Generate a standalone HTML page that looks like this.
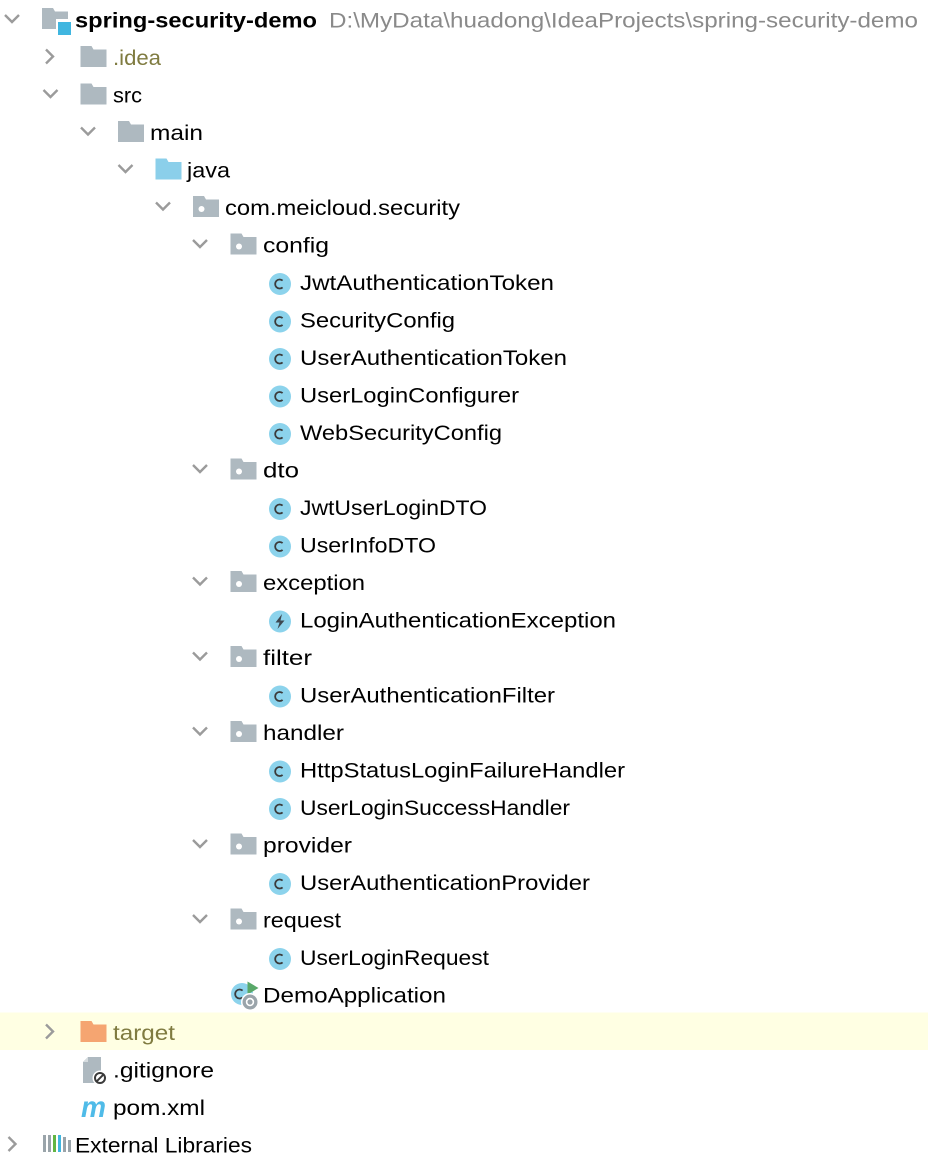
<!DOCTYPE html>
<html><head><meta charset="utf-8"><style>
html,body{margin:0;padding:0;background:#fff;}
svg{display:block;}
text{font-family:"Liberation Sans",sans-serif;font-size:21px;fill:#000;}
</style></head><body>
<svg width="928" height="1160" viewBox="0 0 928 1160" xmlns="http://www.w3.org/2000/svg">
<defs>
  <path id="fold" d="M0 0 H11 L13 3.5 H26 V21 H0 Z"/>
  <g id="pkg"><use href="#fold" fill="#AEB9C0"/><circle cx="8.5" cy="13" r="3" fill="#fff"/></g>
  <g id="cls"><circle cx="0" cy="0" r="11" fill="#8CD3EC"/><path d="M2.6 -3.4 A4.5 4.5 0 1 0 2.6 3.4" fill="none" stroke="#3b3b3b" stroke-width="1.8"/></g>
  <path id="vch" d="M-7 -3.5 L0 3.5 L7 -3.5" fill="none" stroke="#9b9b9b" stroke-width="2.4"/>
  <path id="gch" d="M-3.5 -7 L3.5 0 L-3.5 7" fill="none" stroke="#9b9b9b" stroke-width="2.4"/>
</defs>

<rect x="0" y="1012.5" width="928" height="37.5" fill="#FFFFE3"/>

<use href="#vch" x="12" y="18.5"/>
<use href="#gch" x="49.5" y="56.5"/>
<use href="#vch" x="50.5" y="93.5"/>
<use href="#vch" x="88" y="131"/>
<use href="#vch" x="125.5" y="168.5"/>
<use href="#vch" x="163" y="206"/>
<use href="#vch" x="200" y="243.5"/>
<use href="#vch" x="200" y="468.5"/>
<use href="#vch" x="200" y="581"/>
<use href="#vch" x="200" y="656"/>
<use href="#vch" x="200" y="731"/>
<use href="#vch" x="200" y="843.5"/>
<use href="#vch" x="200" y="918.5"/>
<use href="#gch" x="49.5" y="1031.5"/>
<use href="#gch" x="12" y="1144"/>

<use href="#fold" x="42" y="8" fill="#AEB9C0"/>
<rect x="56" y="19" width="17" height="18" fill="#fff"/>
<rect x="58" y="22" width="13" height="13" fill="#40B6E0"/>

<use href="#fold" x="80.5" y="46" fill="#AEB9C0"/>
<use href="#fold" x="80.5" y="83.5" fill="#AEB9C0"/>
<use href="#fold" x="118" y="121" fill="#AEB9C0"/>
<use href="#fold" x="155.5" y="158.5" fill="#8BCFEA"/>
<use href="#pkg" x="193" y="196"/>
<use href="#pkg" x="230.5" y="233.5"/>
<use href="#pkg" x="230.5" y="458.5"/>
<use href="#pkg" x="230.5" y="571"/>
<use href="#pkg" x="230.5" y="646"/>
<use href="#pkg" x="230.5" y="721"/>
<use href="#pkg" x="230.5" y="833.5"/>
<use href="#pkg" x="230.5" y="908.5"/>
<use href="#fold" x="80.5" y="1021" fill="#F5A571"/>

<use href="#cls" x="280" y="284"/>
<use href="#cls" x="280" y="321.5"/>
<use href="#cls" x="280" y="359"/>
<use href="#cls" x="280" y="396.5"/>
<use href="#cls" x="280" y="434"/>
<use href="#cls" x="280" y="509"/>
<use href="#cls" x="280" y="546.5"/>
<circle cx="280" cy="621.5" r="11" fill="#8CD3EC"/>
<path d="M282 614 L275.5 622.5 L279.5 622.5 L277.5 629 L284.5 620.5 L280.5 620.5 Z" fill="#3d4850"/>
<use href="#cls" x="280" y="696.5"/>
<use href="#cls" x="280" y="771.5"/>
<use href="#cls" x="280" y="809"/>
<use href="#cls" x="280" y="884"/>
<use href="#cls" x="280" y="959"/>

<circle cx="242" cy="994" r="11" fill="#8CD3EC"/>
<path d="M242.6 990.6 A4.5 4.5 0 1 0 242.6 997.4" fill="none" stroke="#3b3b3b" stroke-width="1.8"/>
<path d="M247.5 981.5 L258.5 988 L247.5 994.5 Z" fill="#59A869"/>
<circle cx="250" cy="1002" r="9" fill="#fff"/>
<circle cx="250" cy="1002" r="7.5" fill="#9AA4AA"/>
<circle cx="250" cy="1002" r="4.2" fill="#fff"/>
<circle cx="250" cy="1002" r="2.6" fill="#9AA4AA"/>

<path d="M88 1057 H101 V1083 H83 V1062 Z" fill="#AEB9C0"/>
<path d="M83 1062 L88 1057 L88 1062 Z" fill="#D6DCDF"/>
<circle cx="100" cy="1078" r="7.5" fill="#fff"/>
<circle cx="100" cy="1078" r="5" fill="#fff" stroke="#3b3b3b" stroke-width="2"/>
<line x1="96.6" y1="1081.4" x2="103.4" y2="1074.6" stroke="#3b3b3b" stroke-width="2"/>

<text x="81" y="1117" textLength="25" lengthAdjust="spacingAndGlyphs" style="font-size:30px;font-weight:bold;font-style:italic;fill:#4FBBE8;">m</text>

<rect x="43" y="1135" width="3" height="17" fill="#9AA4AA"/>
<rect x="48" y="1135" width="3" height="17" fill="#9AA4AA"/>
<rect x="53" y="1135" width="3" height="17" fill="#62B543"/>
<rect x="58" y="1135" width="3" height="17" fill="#40B6E0"/>
<rect x="63" y="1137" width="3" height="15" fill="#9AA4AA"/>
<rect x="68" y="1140" width="3" height="12" fill="#9AA4AA"/>

<text x="75" y="27.5" textLength="242" lengthAdjust="spacingAndGlyphs" style="font-weight:bold">spring-security-demo</text>
<text x="329" y="27.5" textLength="589" lengthAdjust="spacingAndGlyphs" style="fill:#8a8a8a">D:\MyData\huadong\IdeaProjects\spring-security-demo</text>
<text x="113" y="65" textLength="48" lengthAdjust="spacingAndGlyphs" style="fill:#7f7b40">.idea</text>
<text x="113" y="102.5" textLength="29" lengthAdjust="spacingAndGlyphs">src</text>
<text x="150" y="140" textLength="53" lengthAdjust="spacingAndGlyphs">main</text>
<text x="187" y="177.5" textLength="43" lengthAdjust="spacingAndGlyphs">java</text>
<text x="225" y="215" textLength="235" lengthAdjust="spacingAndGlyphs">com.meicloud.security</text>
<text x="263" y="252.5" textLength="66" lengthAdjust="spacingAndGlyphs">config</text>
<text x="300" y="290" textLength="254" lengthAdjust="spacingAndGlyphs">JwtAuthenticationToken</text>
<text x="300" y="327.5" textLength="155" lengthAdjust="spacingAndGlyphs">SecurityConfig</text>
<text x="300" y="365" textLength="267" lengthAdjust="spacingAndGlyphs">UserAuthenticationToken</text>
<text x="300" y="402.5" textLength="219" lengthAdjust="spacingAndGlyphs">UserLoginConfigurer</text>
<text x="300" y="440" textLength="202" lengthAdjust="spacingAndGlyphs">WebSecurityConfig</text>
<text x="263" y="477.5" textLength="36" lengthAdjust="spacingAndGlyphs">dto</text>
<text x="300" y="515" textLength="187" lengthAdjust="spacingAndGlyphs">JwtUserLoginDTO</text>
<text x="300" y="552.5" textLength="136" lengthAdjust="spacingAndGlyphs">UserInfoDTO</text>
<text x="263" y="590" textLength="102" lengthAdjust="spacingAndGlyphs">exception</text>
<text x="300" y="627.5" textLength="316" lengthAdjust="spacingAndGlyphs">LoginAuthenticationException</text>
<text x="263" y="665" textLength="49" lengthAdjust="spacingAndGlyphs">filter</text>
<text x="300" y="702.5" textLength="255" lengthAdjust="spacingAndGlyphs">UserAuthenticationFilter</text>
<text x="263" y="740" textLength="81" lengthAdjust="spacingAndGlyphs">handler</text>
<text x="300" y="777.5" textLength="325" lengthAdjust="spacingAndGlyphs">HttpStatusLoginFailureHandler</text>
<text x="300" y="815" textLength="270" lengthAdjust="spacingAndGlyphs">UserLoginSuccessHandler</text>
<text x="263" y="852.5" textLength="89" lengthAdjust="spacingAndGlyphs">provider</text>
<text x="300" y="890" textLength="290" lengthAdjust="spacingAndGlyphs">UserAuthenticationProvider</text>
<text x="263" y="927.5" textLength="78" lengthAdjust="spacingAndGlyphs">request</text>
<text x="300" y="965" textLength="189" lengthAdjust="spacingAndGlyphs">UserLoginRequest</text>
<text x="263" y="1002.5" textLength="183" lengthAdjust="spacingAndGlyphs">DemoApplication</text>
<text x="113" y="1040" textLength="62" lengthAdjust="spacingAndGlyphs" style="fill:#7f7b40">target</text>
<text x="113" y="1077.5" textLength="101" lengthAdjust="spacingAndGlyphs">.gitignore</text>
<text x="113" y="1115" textLength="92" lengthAdjust="spacingAndGlyphs">pom.xml</text>
<text x="75" y="1152.5" textLength="177" lengthAdjust="spacingAndGlyphs">External Libraries</text>
</svg>
</body></html>
